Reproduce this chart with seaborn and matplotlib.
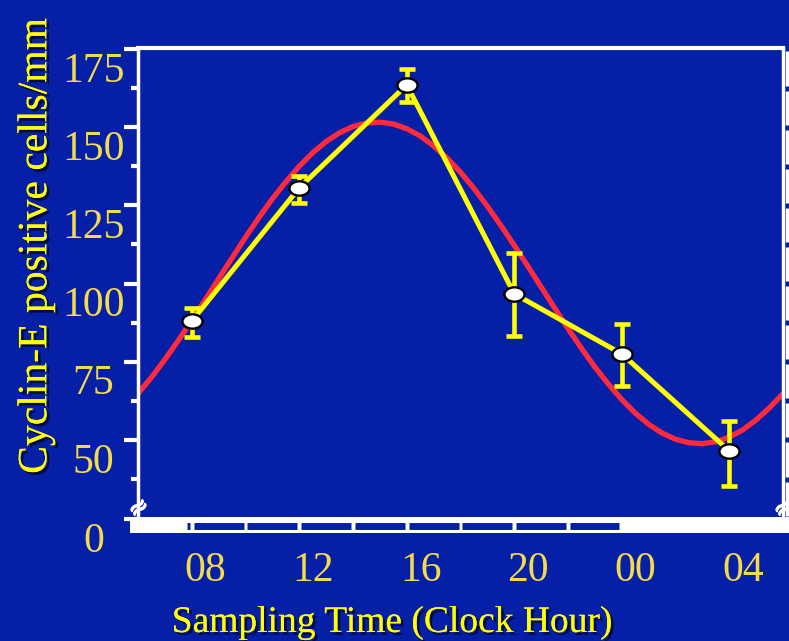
import numpy as np
import pandas as pd
import matplotlib
matplotlib.use("Agg")
import matplotlib.pyplot as plt
import seaborn as sns
from matplotlib.transforms import ScaledTranslation, Affine2D, blended_transform_factory
from matplotlib.path import Path
from matplotlib.markers import MarkerStyle
import matplotlib.patheffects as pe

# ---- data ----
hours = [8, 12, 16, 20, 24, 28]
hour_labels = ["08", "12", "16", "20", "00", "04"]
cells = [88.0, 130.6, 163.5, 96.7, 77.5, 46.5]
err_up = [4.2, 3.8, 5.1, 13.1, 9.6, 9.6]
err_dn = [5.1, 4.8, 5.4, 13.4, 10.2, 11.2]

# fitted (red) curve, read every half hour
fit_hours = [6.0, 6.5, 7.0, 7.5, 8.0, 8.5, 9.0, 9.5, 10.0, 10.5, 11.0, 11.5,
             12.0, 12.5, 13.0, 13.5, 14.0, 14.5, 15.0, 15.5, 16.0, 16.5, 17.0,
             17.5, 18.0, 18.5, 19.0, 19.5, 20.0, 20.5, 21.0, 21.5, 22.0, 22.5,
             23.0, 23.5, 24.0, 24.5, 25.0, 25.5, 26.0, 26.5, 27.0, 27.5, 28.0,
             28.5, 29.0, 29.5, 30.0]
fit_cells = [64.8, 70.0, 75.7, 81.8, 88.2, 94.8, 101.5, 108.2, 114.8, 121.1,
             127.1, 132.5, 137.5, 141.8, 145.4, 148.2, 150.2, 151.3, 151.6,
             151.0, 149.5, 147.2, 144.0, 140.1, 135.6, 130.4, 124.7, 118.6,
             112.2, 105.6, 98.9, 92.2, 85.6, 79.3, 73.3, 67.9, 62.9, 58.6,
             55.0, 52.2, 50.2, 49.1, 48.8, 49.4, 50.9, 53.2, 56.4, 60.3, 64.8]

ytick_vals = [24.7, 50, 75, 100, 125, 150, 175]
ytick_labels = ["0", "50", "75", "100", "125", "150", "175"]
yminor_vals = [37.5, 62.5, 87.5, 112.5, 137.5, 162.5]

xlabel = "Sampling Time (Clock Hour)"
ylabel = "Cyclin-E positive cells/mm"

# ---- styling ----
BG = "#0520A6"
YEL = "#FFFF00"
TICKC = "#F5DA4C"
RED = "#FF2A3C"

sns.set_style("dark")
plt.rcParams["font.family"] = ["Liberation Serif", "DejaVu Serif"]

W, H = 789, 641
fig = plt.figure(figsize=(W / 100, H / 100), dpi=100, facecolor=BG)
L, R, T, B = 138, 783, 48, 525
ax = fig.add_axes([L / W, 1 - B / H, (R - L) / W, (B - T) / H])
ax.set_facecolor(BG)
ax.grid(False)

fit_df = pd.DataFrame({"hour": fit_hours, "cells": fit_cells})
obs_df = pd.DataFrame({"hour": hours, "cells": cells})

sns.lineplot(data=fit_df, x="hour", y="cells", color=RED, lw=3.8, ax=ax,
             zorder=2, solid_joinstyle="round")
sns.lineplot(data=obs_df, x="hour", y="cells", color=YEL, lw=3.6, ax=ax, zorder=3)
ax.errorbar(hours, cells, yerr=[err_dn, err_up], fmt="none", ecolor=YEL,
            elinewidth=3.3, capsize=5.5, capthick=3.3, zorder=4)
ell = Path.unit_circle().transformed(Affine2D().scale(1.4, 1.0))
sns.scatterplot(data=obs_df, x="hour", y="cells", marker=ell, s=210,
                color="white", edgecolor="black", linewidth=1.7, ax=ax, zorder=5)

ax.set_xlim(6, 30)
ax.set_ylim(22.8, 175.3)
ax.set_xlabel("")
ax.set_ylabel("")

ax.set_xticks(hours, hour_labels)
ax.set_yticks(ytick_vals, ytick_labels)
ax.set_yticks(yminor_vals, minor=True)
ax.tick_params(axis="y", which="major", left=True, length=10, width=3,
               color="white", direction="out", pad=22, labelsize=30,
               labelcolor=TICKC)
ax.tick_params(axis="y", which="minor", left=True, length=5, width=3,
               color="white", direction="out")
ax.tick_params(axis="x", which="both", length=0, pad=19, labelsize=30,
               labelcolor=TICKC)

for lab in ax.get_yticklabels():
    lab.set_ha("center")
    lab.set_transform(lab.get_transform() + ScaledTranslation(0, -0.18, fig.dpi_scale_trans))
for lab in ax.get_xticklabels():
    lab.set_transform(lab.get_transform() + ScaledTranslation(0.14, 0, fig.dpi_scale_trans))

for side, lw in [("left", 2.5), ("top", 3.0), ("right", 2.5), ("bottom", 11.5)]:
    ax.spines[side].set_visible(True)
    ax.spines[side].set_color("white")
    ax.spines[side].set_linewidth(lw)

# blue dashes inside the thick bottom bar
btr = blended_transform_factory(ax.transData, ax.transAxes)
yb = -0.5 / (B - T)
segs = [(7.82, 7.94)] + [(h + 0.07, h + 1.93) for h in range(8, 22, 2)] + [(22.07, 23.9)]
for a, b in segs:
    ax.plot([a, b], [yb, yb], color=BG, lw=5.0, solid_capstyle="butt",
            transform=btr, clip_on=False, zorder=6)

# dashed white line at the right edge
rtr = blended_transform_factory(ax.transAxes, ax.transData)
xr = (787 - L) / (R - L)
v = 175.0
while v > 30:
    ax.plot([xr, xr], [v - 0.8, v - 11.7], color="white", lw=2.5,
            solid_capstyle="butt", transform=rtr, clip_on=False, zorder=6)
    v -= 12.5

# axis-break marks
brk = MarkerStyle(r"$\approx$", transform=Affine2D().rotate_deg(35))
ax.plot([0.0, 1.0], [(B - 507) / (B - T)] * 2, linestyle="none", marker=brk,
        markersize=11, color="white", transform=ax.transAxes, clip_on=False,
        zorder=7)

shadow = [pe.withSimplePatchShadow(offset=(2, -2), shadow_rgbFace="black", alpha=0.6),
          pe.Normal()]
fig.text(392 / W, 1 - 632 / H, xlabel, ha="center", va="baseline",
         fontsize=27, color=YEL, path_effects=shadow)
fig.text(36 / W, 1 - 246 / H, ylabel, ha="center", va="center", rotation=90,
         fontsize=30, color=YEL, path_effects=shadow)

fig.savefig("out.png", dpi=100, facecolor=BG)
